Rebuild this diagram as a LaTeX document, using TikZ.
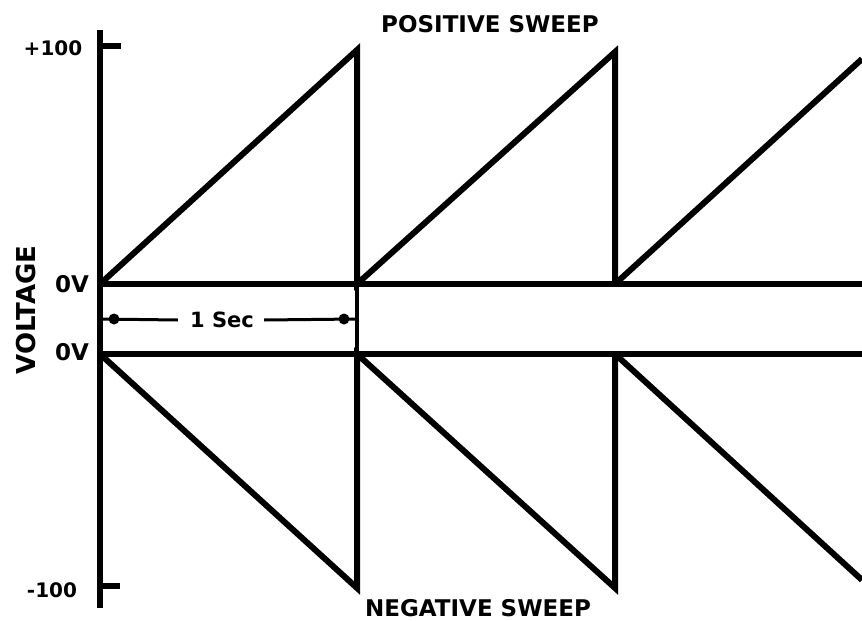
\documentclass[tikz,border=0pt]{standalone}
\usepackage{fontspec}
\setmainfont{DejaVu Sans}
\begin{document}
\begin{tikzpicture}[x=1pt,y=-1pt,
  heavy/.style={line width=6pt},
  dimline/.style={line width=3pt},
  lbl/.style={font=\bfseries\fontsize{23}{23}\selectfont, inner sep=0pt},
  ticklbl/.style={font=\bfseries\fontsize{20}{20}\selectfont, inner sep=0pt}]
\useasboundingbox (0,0) rectangle (862,621);
\clip (0,0) rectangle (862,621);
% coordinates
\coordinate (axtop) at (100,30);
\coordinate (axbot) at (100,608);
\coordinate (tp) at (100,46);
\coordinate (tpe) at (121,46);
\coordinate (tn) at (100,586);
\coordinate (tne) at (120,586);
\coordinate (u0) at (100,284);
\coordinate (u1) at (357,284);
\coordinate (u2) at (615,284);
\coordinate (uend) at (862,284);
\coordinate (l0) at (100,354);
\coordinate (l1) at (357,354);
\coordinate (l2) at (615,354);
\coordinate (lend) at (862,354);
\coordinate (p1) at (357,50);
\coordinate (p2) at (615,52);
\coordinate (p3) at (862,59);
\coordinate (n1) at (357,588);
\coordinate (n2) at (615,588);
\coordinate (n3) at (862,580);
% axis and ticks
\draw[heavy] (axtop) -- (axbot);
\draw[heavy] (tp) -- (tpe);
\draw[heavy] (tn) -- (tne);
% baselines
\draw[heavy] (u0) -- (uend);
\draw[heavy] (l0) -- (lend);
% positive sweep
\draw[heavy, line join=miter] (u0) -- (p1) -- (u1) -- (p2) -- (u2);
\draw[heavy] (u2) -- (p3);
% negative sweep
\draw[heavy, line join=miter] (l0) -- (n1) -- (l1) -- (n2) -- (l2);
\draw[heavy] (l2) -- (n3);
% extension between baselines
\draw[line width=3.5pt] (u1) -- (l1);
% dimension
\node[font=\bfseries\fontsize{21}{21}\selectfont, inner sep=0pt] (sec) at (222,320) {1 Sec};
\coordinate (dl) at (100,319);
\coordinate (dr) at (357,319);
\coordinate (dotl) at (114,319);
\coordinate (dotr) at (344,319);
\draw[dimline] (dl) -- ([xshift=-12pt]sec.west);
\draw[dimline] ([xshift=10pt]sec.east) -- (dr);
\fill (dotl) circle (5.5);
\fill (dotr) circle (5.5);
% labels
\node[lbl] (pos) at (490,24) {POSITIVE SWEEP};
\node[lbl] (neg) at (478,608) {NEGATIVE SWEEP};
\node[ticklbl] (hp) at (53,48) {+100};
\node[ticklbl] (hn) at (52,590) {-100};
\node[lbl] (z1) at (72,284) {0V};
\node[lbl] (z2) at (72,352) {0V};
\node[font=\bfseries\fontsize{26}{26}\selectfont, inner sep=0pt, rotate=90] (volt) at (26,310) {VOLTAGE};
\end{tikzpicture}
\end{document}
